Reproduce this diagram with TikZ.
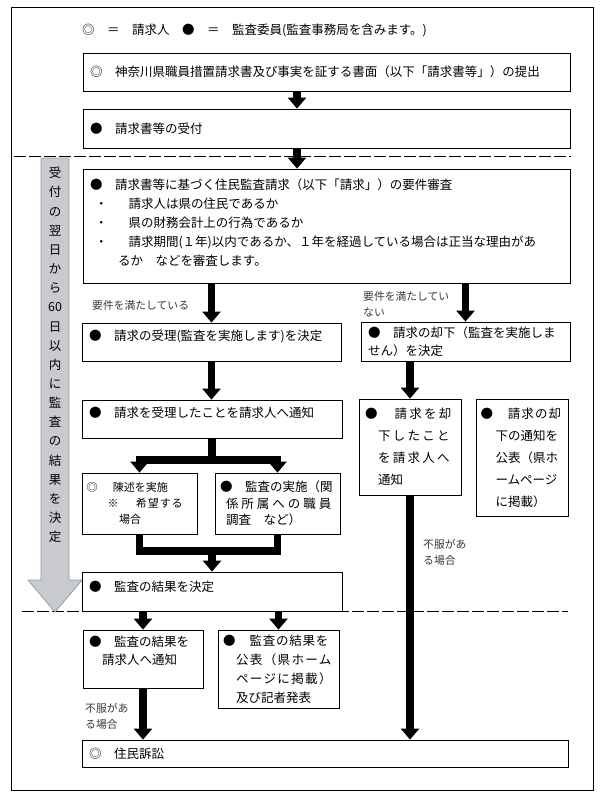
\documentclass[tikz,border=0pt]{standalone}
\usepackage{fontspec}
\usepackage{tikz}
\usetikzlibrary{arrows.meta}
\newfontfamily\jp{Noto Sans CJK JP}
\definecolor{arrowgray}{RGB}{200,202,206}
\definecolor{arrowedge}{RGB}{140,155,172}
\definecolor{notegray}{RGB}{55,55,55}
\newcommand{\jsz}{\jp\fontsize{12.5}{19}\selectfont}
\newcommand{\itm}{\hspace*{5pt}・\hspace*{21pt}}
\newcommand{\trk}[2]{{\addfontfeature{LetterSpace=#1}#2}}

\begin{document}
\begin{tikzpicture}[x=1pt,y=-1pt,
    box/.style={draw,line width=0.8pt,inner xsep=7pt,inner ysep=0pt,align=left,font=\jsz},
    lift/.style={text depth=#1},
    flow/.style={line width=7.5pt,line join=miter,-{Triangle[width=18pt,length=11pt]}},
    stem/.style={line width=7.5pt,line join=miter},
    note/.style={inner sep=0pt,align=left,text=notegray,font=\jp\fontsize{10.8}{15.5}\selectfont},
    cutline/.style={line width=0.8pt,dash pattern=on 12pt off 3pt}]
  \useasboundingbox (0,0) rectangle (605,804);
  \draw[line width=0.8pt] (11,7) rectangle (593,790);
  \draw[cutline] (14,156) -- (571,156);
  \draw[cutline] (22,611) -- (568,611);
  \filldraw[fill=arrowgray,draw=arrowedge,line width=0.8pt] (41,158) -- (69,158) --
    (69,580) -- (82,580) -- (55,612) -- (28,580) -- (41,580) -- cycle;
  \node[inner sep=0pt,align=center,font=\jp\fontsize{12.5}{19.15}\selectfont] (period) at (55,355)
    {受\\付\\の\\翌\\日\\か\\ら\\60\\日\\以\\内\\に\\監\\査\\の\\結\\果\\を\\決\\定};
  \node[anchor=west,inner sep=0pt,font=\jsz] (legend) at (82,30)
    {◎　＝　請求人　●　＝　監査委員(監査事務局を含みます。)};

  \node[box,text width=473pt,minimum height=38pt] (submit) at (326.5,72)
    {◎　神奈川県職員措置請求書及び事実を証する書面（以下「請求書等」）の提出};
  \node[box,text width=473pt,minimum height=39pt] (receive) at (326.5,128.5)
    {●　請求書等の受付};
  \node[box,lift=83.5pt,text width=473pt,minimum height=114pt] (review) at (326.5,226)
    {●　請求書等に基づく住民監査請求（以下「請求」）の要件審査\\
     \itm 請求人は県の住民であるか\\
     \itm 県の財務会計上の行為であるか\\
     \itm 請求期間(１年)以内であるか、１年を経過している場合は正当な理由があ\\
     \hspace*{28pt}るか　などを審査します。};
  \node[box,lift=13.5pt,text width=245pt,minimum height=38pt] (admit) at (211.5,342)
    {●　請求の受理(監査を実施します)を決定};
  \node[box,text width=195pt,minimum height=39pt,font=\jp\fontsize{12.5}{18}\selectfont] (dismiss) at (465.5,341.5)
    {●　請求の却下（監査を実施しま\\せん）を決定};
  \node[box,lift=13.5pt,text width=246pt,minimum height=38pt] (tellok) at (212,419)
    {●　請求を受理したことを請求人へ通知};
  \node[box,inner xsep=6pt,text width=90pt,minimum height=96pt,font=\jp\fontsize{12.5}{22}\selectfont] (tellno) at (410,447)
    {\trk{18}{●　請求を却}\\\hspace*{13pt}\trk{18}{下したこと}\\
     \hspace*{13pt}\trk{18}{を請求人へ}\\\hspace*{13pt}通知};
  \node[box,inner xsep=4.5pt,text width=83pt,minimum height=117pt,font=\jp\fontsize{12.5}{22}\selectfont] (pubno) at (522,457.5)
    {\trk{9}{●　請求の却}\\\hspace*{15pt}下の通知を\\\hspace*{15pt}公表（県ホ\\
     \hspace*{15pt}ームページ\\\hspace*{15pt}に掲載）};
  \node[box,inner xsep=4.5pt,text width=106pt,minimum height=61pt,font=\jp\fontsize{11}{16}\selectfont] (hearing) at (139.5,503.5)
    {◎\hspace*{15.5pt}陳述を実施\\\hspace*{21pt}※\hspace*{17.5pt}\trk{8}{希望する}\\\hspace*{32.5pt}場合};
  \node[box,inner xsep=5pt,text width=115pt,minimum height=61pt,font=\jp\fontsize{12.5}{16.5}\selectfont] (inquiry) at (277.5,503.5)
    {●　監査の実施（関\\\hspace*{6pt}\trk{24}{係所属への職員}\\\hspace*{6pt}調査　など）};
  \node[box,lift=10.5pt,text width=246pt,minimum height=39pt] (decide) at (212,591.5)
    {●　監査の結果を決定};
  \node[box,lift=35.5pt,inner xsep=6pt,text width=108pt,minimum height=58pt,font=\jp\fontsize{12.5}{18}\selectfont] (report) at (143,659)
    {●　監査の結果を\\\hspace*{13pt}請求人へ通知};
  \node[box,inner xsep=5pt,text width=111pt,minimum height=78pt] (publish) at (278.5,669)
    {\trk{6}{●　監査の結果を}\\\hspace*{13pt}\trk{11}{公表（県ホーム}\\
     \hspace*{13pt}\trk{11}{ページに掲載）}\\\hspace*{13pt}及び記者発表};
  \node[box,text width=472pt,minimum height=27pt] (suit) at (325,753.5)
    {◎　住民訴訟};

  \node[note,anchor=west] (metlbl) at (92,305) {要件を満たしている};
  \node[note,anchor=north west] (unmetlbl) at (363,291.6) {要件を満たしてい\\ない};
  \node[note,anchor=north west] (objlbla) at (423,539.6) {不服があ\\る場合};
  \node[note,anchor=north west] (objlblb) at (85,703.6) {不服があ\\る場合};

  \draw[flow] ([xshift=-29.5pt]submit.south) -- ([xshift=-29.5pt]receive.north);
  \draw[flow] ([xshift=-29.5pt]receive.south) -- ([xshift=-29.5pt]review.north);
  \draw[flow] (review.south -| admit.north) -- (admit.north);
  \draw[flow] (review.south -| dismiss.north) -- (dismiss.north);
  \draw[flow] (admit.south) -- (admit.south |- tellok.north);
  \draw[flow] (dismiss.south -| tellno.north) -- (tellno.north);
  \coordinate (split) at (212,460);
  \coordinate (join) at (212,551);
  \draw[stem] (tellok.south) -- (split);
  \draw[flow] (split) -| (hearing.north);
  \draw[flow] (split) -| (inquiry.north);
  \draw[stem] (hearing.south) |- (join) -| (inquiry.south);
  \draw[flow] (join) -- (decide.north);
  \draw[flow] (decide.south -| report.north) -- (report.north);
  \draw[flow] (decide.south -| publish.north) -- (publish.north);
  \draw[flow] (report.south) -- (report.south |- suit.north);
  \draw[flow] (tellno.south) -- (tellno.south |- suit.north);
\end{tikzpicture}
\end{document}
